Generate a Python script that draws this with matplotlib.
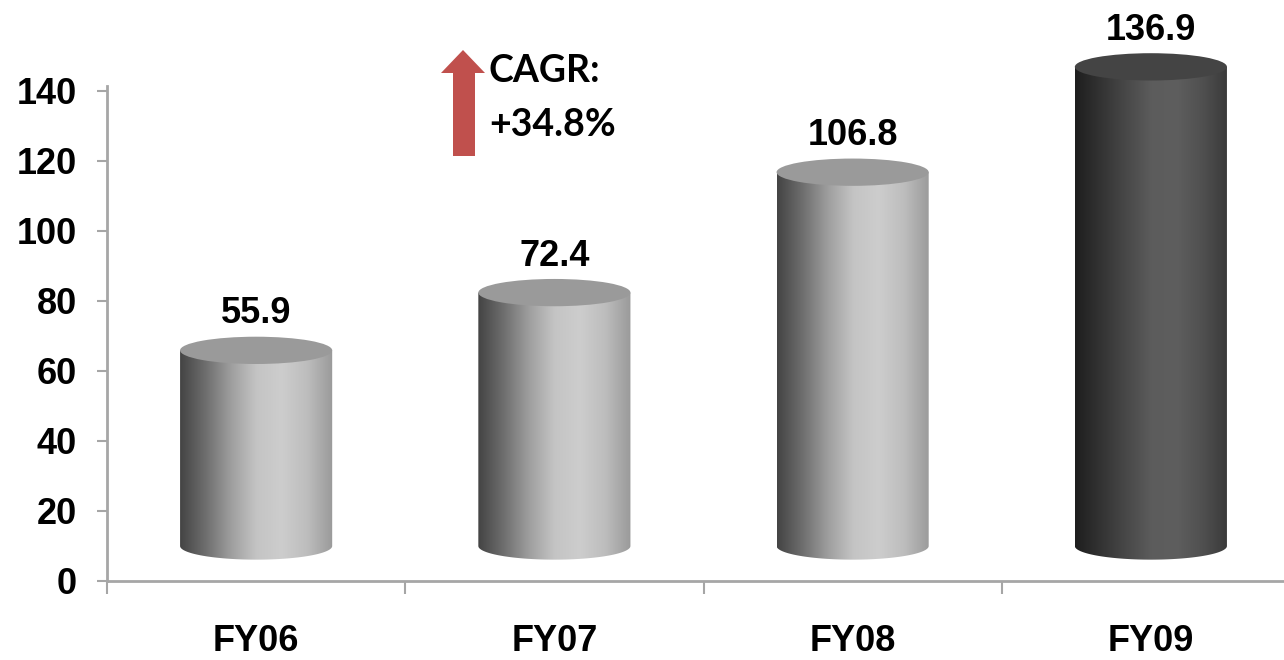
import numpy as np
import matplotlib.pyplot as plt
from matplotlib.patches import Ellipse, PathPatch, Polygon
from matplotlib.path import Path
from matplotlib.colors import LinearSegmentedColormap

years = ['FY06', 'FY07', 'FY08', 'FY09']
revenue = [55.9, 72.4, 106.8, 136.9]
value_labels = ['55.9', '72.4', '106.8', '136.9']
yticks = [0, 20, 40, 60, 80, 100, 120, 140]
cagr_lines = ['CAGR:', '+34.8%']

# shading of the cylinders (left -> right)
light_stops = ['#444444', '#6e6e6e', '#9e9e9e', '#c4c4c4', '#cdcdcd', '#bdbdbd', '#9a9a9a']
dark_stops = ['#1e1e1e', '#333333', '#484848', '#5c5c5c', '#5e5e5e', '#505050', '#3a3a3a']
light_top = '#9a9a9a'
dark_top = '#444444'

FONT = 'Liberation Sans'
FS = 26
W, H = 1284, 660
px = 3.5            # pixels per data unit on y
base = 10           # floor offset of the 3d bars
bw = 0.51           # cylinder width (category units)
eh = 7.8            # ellipse height (data units)
xlim = (-0.5, (W - 257) / 298)
ylim = (0, 581 / px)

fig = plt.figure(figsize=(W / 100, H / 100), dpi=100)
ax = fig.add_axes([107 / W, 1 - 581 / H, 1 - 107 / W, 581 / H])

for i, v in enumerate(revenue):
    dark = (i == len(revenue) - 1)
    cmap = LinearSegmentedColormap.from_list('c', dark_stops if dark else light_stops)
    x0, x1 = i - bw / 2, i + bw / 2
    yb, yt = base, base + v
    t = np.linspace(np.pi, 2 * np.pi, 80)
    arc = np.column_stack([i + bw / 2 * np.cos(t), yb + eh / 2 * np.sin(t)])
    verts = [(x0, yt)] + [tuple(p) for p in arc] + [(x1, yt), (x0, yt)]
    codes = [Path.MOVETO] + [Path.LINETO] * (len(verts) - 2) + [Path.CLOSEPOLY]
    body = PathPatch(Path(verts, codes), facecolor='none', edgecolor='none')
    ax.add_patch(body)
    grad = cmap(np.linspace(0, 1, 256))[None, :, :]
    im = ax.imshow(grad, extent=[x0, x1, yb - eh / 2, yt], aspect='auto',
                   interpolation='bilinear', zorder=2)
    im.set_clip_path(body)
    ax.add_patch(Ellipse((i, yt), bw, eh, facecolor=dark_top if dark else light_top,
                         edgecolor='none', zorder=3))
    ax.text(i, yt + eh / 2 + 1.5, value_labels[i], ha='center', va='bottom',
            fontsize=FS, fontweight='bold', family=FONT, zorder=4)

for s in ['top', 'right']:
    ax.spines[s].set_visible(False)
for s in ['left', 'bottom']:
    ax.spines[s].set_color('#a6a6a6')
    ax.spines[s].set_linewidth(2)
ax.spines['left'].set_bounds(0, 495 / px)

ax.set_yticks(yticks)
ax.set_yticklabels([str(y) for y in yticks], fontsize=FS, fontweight='bold', family=FONT)
ax.tick_params(axis='y', direction='out', length=7.5, width=1.5, color='#a6a6a6', pad=14)

ax.set_xticks(np.arange(len(years)) - 0.5)
ax.set_xticklabels([])
ax.tick_params(axis='x', which='major', direction='out', length=9.5, width=1.5, color='#a6a6a6')
ax.set_xticks(np.arange(len(years)), minor=True)
ax.set_xticklabels(years, minor=True, fontsize=FS, fontweight='bold', family=FONT)
ax.tick_params(axis='x', which='minor', length=0, pad=31)

ax.set_xlim(*xlim)
ax.set_ylim(*ylim)

# CAGR arrow + text
arrow = np.array([(453, 156), (453, 73), (441, 73), (463, 50), (485, 73), (475, 73), (475, 156)],
                 dtype=float)
arrow[:, 0] /= W
arrow[:, 1] = 1 - arrow[:, 1] / H
fig.add_artist(Polygon(arrow, closed=True, facecolor='#c0504d', edgecolor='none',
                       transform=fig.transFigure))
fig.text(489 / W, 1 - 71 / H, cagr_lines[0], ha='left', va='center', fontsize=27,
         fontweight='bold', family='Lato')
fig.text(489 / W, 1 - 125 / H, cagr_lines[1], ha='left', va='center', fontsize=27,
         fontweight='bold', family='Lato')

fig.savefig('out.png', dpi=100, facecolor='white')
